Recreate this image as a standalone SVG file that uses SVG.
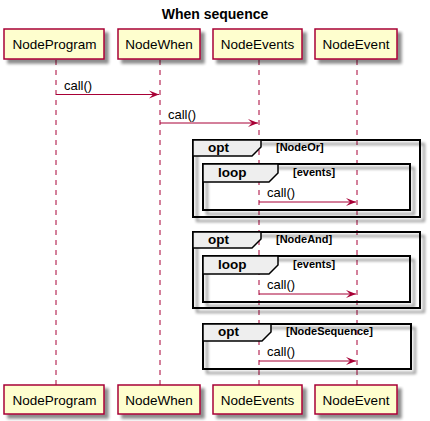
<svg xmlns="http://www.w3.org/2000/svg" width="430" height="421" viewBox="0 0 430 421">
<defs>
  <filter id="sh" x="-10%" y="-10%" width="130%" height="140%">
    <feGaussianBlur in="SourceAlpha" stdDeviation="1.8"/>
    <feOffset dx="4" dy="4" result="b"/>
    <feComponentTransfer><feFuncA type="linear" slope="0.45"/></feComponentTransfer>
    <feMerge><feMergeNode/><feMergeNode in="SourceGraphic"/></feMerge>
  </filter>
  <marker id="ah" markerWidth="11" markerHeight="9" refX="10" refY="4.5" orient="auto" markerUnits="userSpaceOnUse">
    <path d="M0,0.5 L10,4.5 L0,8.5 L4,4.5 Z" fill="#A80036"/>
  </marker>
</defs>
<style>
  .pbox { fill: #FEFECE; stroke: #A80036; stroke-width: 1.5; }
  .ptxt { font-family: "Liberation Sans", Arial, sans-serif; font-size: 13.5px; fill: #000; text-anchor: middle; }
  .life { stroke: #A80036; stroke-width: 1; stroke-dasharray: 5,5; fill: none; }
  .msg { stroke: #A80036; stroke-width: 1; fill: none; marker-end: url(#ah); }
  .mtxt { font-family: "Liberation Sans", Arial, sans-serif; font-size: 13px; fill: #000; }
  .frame { fill: none; stroke: #000; stroke-width: 2; }
  .tab { fill: #EEEEEE; stroke: #000; stroke-width: 1.5; }
  .ftag { font-family: "Liberation Sans", Arial, sans-serif; font-size: 13.5px; font-weight: bold; fill: #000; }
  .fcond { font-family: "Liberation Sans", Arial, sans-serif; font-size: 11px; font-weight: bold; fill: #000; }
  .title { font-family: "Liberation Sans", Arial, sans-serif; font-size: 14px; font-weight: bold; fill: #000; text-anchor: middle; }
</style>
<rect width="430" height="421" fill="#FFFFFF"/>
<text class="title" x="215" y="19">When sequence</text>

<g id="lifelines">
  <line class="life" x1="56" y1="60" x2="56" y2="385"/>
  <line class="life" x1="160" y1="60" x2="160" y2="385"/>
  <line class="life" x1="259" y1="60" x2="259" y2="385"/>
  <line class="life" x1="357" y1="60" x2="357" y2="385"/>
</g>

<g id="frame-opt-nodeor">
  <rect class="frame" x="193" y="140" width="227" height="77" filter="url(#sh)"/>
  <polygon class="tab" points="193,140 261,140 261,147 252,156 193,156"/>
  <text class="ftag" x="208" y="152">opt</text>
  <text class="fcond" x="276" y="151">[NodeOr]</text>
</g>
<g id="frame-loop-1">
  <rect class="frame" x="203" y="164" width="207" height="46" filter="url(#sh)"/>
  <polygon class="tab" points="203,164 278,164 278,173 269,182 203,182"/>
  <text class="ftag" x="218" y="177">loop</text>
  <text class="fcond" x="293" y="176">[events]</text>
</g>

<g id="frame-opt-nodeand">
  <rect class="frame" x="193" y="232" width="227" height="76" filter="url(#sh)"/>
  <polygon class="tab" points="193,232 261,232 261,239 252,248 193,248"/>
  <text class="ftag" x="208" y="244">opt</text>
  <text class="fcond" x="276" y="243">[NodeAnd]</text>
</g>
<g id="frame-loop-2">
  <rect class="frame" x="203" y="256" width="207" height="46" filter="url(#sh)"/>
  <polygon class="tab" points="203,256 278,256 278,265 269,274 203,274"/>
  <text class="ftag" x="218" y="269">loop</text>
  <text class="fcond" x="293" y="268">[events]</text>
</g>

<g id="frame-opt-nodesequence">
  <rect class="frame" x="203" y="324" width="208" height="45" filter="url(#sh)"/>
  <polygon class="tab" points="203,324 271,324 271,332 262,341 203,341"/>
  <text class="ftag" x="218" y="336">opt</text>
  <text class="fcond" x="286" y="335">[NodeSequence]</text>
</g>

<g id="connectors">
  <line class="msg" x1="56" y1="94.5" x2="159" y2="94.5"/>
  <text class="mtxt" x="64" y="90">call()</text>
  <line class="msg" x1="160" y1="123" x2="258" y2="123"/>
  <text class="mtxt" x="168" y="119">call()</text>
  <line class="msg" x1="259" y1="202" x2="356" y2="202"/>
  <text class="mtxt" x="267" y="197">call()</text>
  <line class="msg" x1="259" y1="294" x2="356" y2="294"/>
  <text class="mtxt" x="267" y="289">call()</text>
  <line class="msg" x1="259" y1="361" x2="356" y2="361"/>
  <text class="mtxt" x="267" y="356">call()</text>
</g>

<g id="NodeProgram">
  <rect class="pbox" x="4" y="29" width="100" height="30" filter="url(#sh)"/>
  <text class="ptxt" x="54.5" y="49">NodeProgram</text>
  <rect class="pbox" x="4" y="385" width="100" height="29" filter="url(#sh)"/>
  <text class="ptxt" x="54.5" y="404.5">NodeProgram</text>
</g>
<g id="NodeWhen">
  <rect class="pbox" x="118" y="29" width="82" height="30" filter="url(#sh)"/>
  <text class="ptxt" x="159" y="49">NodeWhen</text>
  <rect class="pbox" x="118" y="385" width="82" height="29" filter="url(#sh)"/>
  <text class="ptxt" x="159" y="404.5">NodeWhen</text>
</g>
<g id="NodeEvents">
  <rect class="pbox" x="213" y="29" width="89" height="30" filter="url(#sh)"/>
  <text class="ptxt" x="257.5" y="49">NodeEvents</text>
  <rect class="pbox" x="213" y="385" width="89" height="29" filter="url(#sh)"/>
  <text class="ptxt" x="257.5" y="404.5">NodeEvents</text>
</g>
<g id="NodeEvent">
  <rect class="pbox" x="315" y="29" width="82" height="30" filter="url(#sh)"/>
  <text class="ptxt" x="356" y="49">NodeEvent</text>
  <rect class="pbox" x="315" y="385" width="82" height="29" filter="url(#sh)"/>
  <text class="ptxt" x="356" y="404.5">NodeEvent</text>
</g>
</svg>
